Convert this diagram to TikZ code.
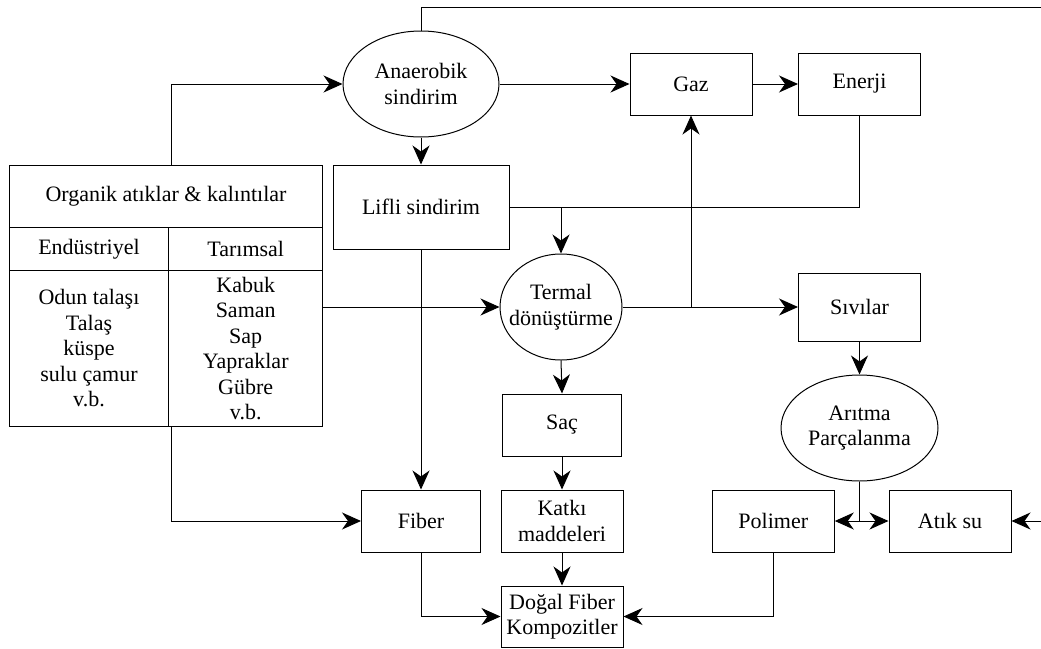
\documentclass[tikz,border=0pt]{standalone}
\usepackage{fontspec}
\setmainfont{Liberation Serif}
\newfontfamily\timesyazi{Liberation Serif}
\usetikzlibrary{shapes, arrows.meta}

\begin{document}
\begin{tikzpicture}[x=1pt, y=-1pt, line width=1pt,
    >={Stealth[length=19pt, width=17pt, inset=6pt]},
    every node/.style={font=\timesyazi\fontsize{22}{25.5}\selectfont, inner sep=0pt, align=center},
    bloc/.style={draw, rectangle, minimum width=122pt, minimum height=62pt},
    ovale/.style={draw, ellipse, inner xsep=-12pt, minimum width=#1, minimum height=106pt}]
      \useasboundingbox (0,0) rectangle (1041,648);

      % Tablo
      \node[draw, minimum width=313pt, minimum height=261pt] (org) at (166,295.5) {};
      \draw (org.west |- 0,227.7) -- (org.east |- 0,227.7);
      \draw (org.west |- 0,270.7) -- (org.east |- 0,270.7);
      \draw (168.7,227.7) -- (org.south -| 168.7,0);
      \node (baslik) at (166,196) {Organik atıklar \& kalıntılar};
      \node (endus) at (89,249) {Endüstriyel};
      \node (tarim) at (245.7,249) {Tarımsal};
      \node (endusliste) at (89,348.3) {Odun talaşı\\Talaş\\küspe\\sulu çamur\\v.b.};
      \node (tarimliste) at (245.7,348.3) {Kabuk\\Saman\\Sap\\Yapraklar\\Gübre\\v.b.};

      % Bloklar
      \node[ovale=156pt] (anaer) at (421,84) {Anaerobik\\sindirim};
      \node[bloc] (gaz) at (691,84) {Gaz};
      \node[bloc] (enerji) at (859.5,84) {Enerji};
      \node[bloc, minimum width=176pt, minimum height=84pt] (lifli) at (421,207) {Lifli sindirim};
      \node[ovale=122pt] (termal) at (561,307) {Termal\\dönüştürme};
      \node[bloc, minimum height=68pt] (sivi) at (859.5,307) {Sıvılar};
      \node[ovale=157pt] (aritma) at (859.5,428) {Arıtma\\Parçalanma};
      \node[bloc, minimum width=119pt] (sac) at (562,425) {Saç};
      \node[bloc] (katki) at (562,521) {Katkı\\maddeleri};
      \node[bloc, minimum width=119pt] (fiber) at (421,521) {Fiber};
      \node[bloc] (polimer) at (773.3,521) {Polimer};
      \node[bloc] (atik) at (950,521) {Atık su};
      \node[bloc, minimum height=61pt] (dogal) at (562,616.5) {Doğal Fiber\\Kompozitler};

      \coordinate (ustkenar) at (1041,7.3);
      \coordinate (sagkenar) at (1041,521);
      \coordinate (ayrim) at (aritma.south |- polimer.east);

      % Okler
      \draw[->] ([xshift=5pt]org.north) |- (anaer.west);
      \draw (anaer.north) |- (ustkenar);
      \draw[->] (anaer.east) -- (gaz.west);
      \draw[->] (gaz.east) -- (enerji.west);
      \draw[->] (anaer.south) -- (lifli.north);
      \draw (lifli.east) -| (enerji.south);
      \draw[->] (lifli.east -| termal.north) -- (termal.north);
      \draw[->] (org.east |- termal.west) -- (termal.west);
      \draw[->] (termal.east) -- (sivi.west);
      \draw[->] (termal.east -| gaz.south) -- (gaz.south);
      \draw[->] (lifli.south) -- (fiber.north);
      \draw[->] (termal.south) -- (sac.north);
      \draw[->] (sac.south) -- (katki.north);
      \draw[->] (katki.south) -- (dogal.north);
      \draw[->] (sivi.south) -- (aritma.north);
      \draw (aritma.south) -- (ayrim);
      \draw[->] (ayrim) -- (polimer.east);
      \draw[->] (ayrim) -- (atik.west);
      \draw[->] (sagkenar) -- (atik.east);
      \draw[->] (polimer.south) |- (dogal.east);
      \draw[->] (fiber.south) |- (dogal.west);
      \draw[->] ([xshift=5pt]org.south) |- (fiber.west);
    \end{tikzpicture}
\end{document}
